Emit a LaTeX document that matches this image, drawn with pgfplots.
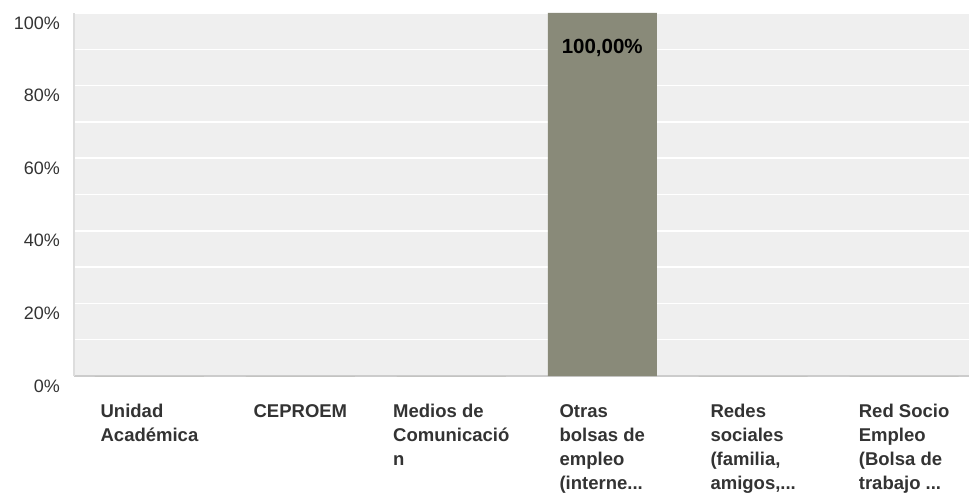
\documentclass[border=0pt]{standalone}
\usepackage{pgfplots}
\usepackage{pgfplotstable}
\pgfplotsset{compat=1.18}
\usepackage{fontspec}
\setmainfont{Liberation Sans}
\definecolor{bgc}{RGB}{239,239,239}
\definecolor{barc}{RGB}{137,138,121}
\definecolor{txt}{RGB}{51,51,51}
\definecolor{yax}{RGB}{221,221,221}
\definecolor{xax}{RGB}{204,204,204}
\newcommand\ddd{.\kern0pt.\kern0pt.}
\pgfplotstableread{
x y lbl
0 0 {}
1 0 {}
2 0 {}
3 100 100,00\%
4 0 {}
5 0 {}
}\datatab
\begin{document}
\begin{tikzpicture}
\useasboundingbox (-74bp,-119bp) rectangle (895bp,376bp);
\begin{axis}[
  at={(0,0)}, anchor=south west,
  scale only axis, width=895bp, height=363bp,
  xmin=-0.5, xmax=5.43, ymin=0, ymax=100,
  axis background/.style={fill=bgc},
  axis x line*=bottom, axis y line*=left,
  x axis line style={draw=xax, line width=1.2bp},
  y axis line style={draw=yax, line width=2bp},
  major tick length=0, minor tick length=0,
  ytick={0,20,40,60,80,100},
  yticklabels={0\%,20\%,40\%,60\%,80\%,100\%},
  minor ytick={10,30,50,70,90},
  ymajorgrids, yminorgrids,
  major grid style={draw=white, line width=1.5bp},
  minor grid style={draw=white, line width=1.5bp},
  yticklabel style={anchor=east, inner sep=0pt, xshift=-14bp, yshift=-10bp, text=txt, font=\fontsize{18bp}{22bp}\selectfont},
  xtick={0,1,2,3,4,5},
  xticklabels={{Unidad\\Académica},{CEPROEM},{Medios de\\Comunicació\\n},{Otras\\bolsas de\\empleo\\(interne\ddd},{Redes\\sociales\\(familia,\\amigos,\ddd},{Red Socio\\Empleo\\(Bolsa de\\trabajo \ddd}},
  xticklabel style={anchor=north, inner sep=0pt, yshift=-28bp, align=left, text=txt, font=\fontsize{18.5bp}{24bp}\selectfont\bfseries},
  ybar, bar width=109bp,
]
\addplot[fill=barc, draw=none, nodes near coords, point meta=explicit symbolic,
  every node near coord/.append style={anchor=center, yshift=-34.5bp, text=black, font=\fontsize{20.5bp}{24bp}\selectfont\bfseries}]
  table[x=x, y=y, meta=lbl] {\datatab};
\end{axis}
\end{tikzpicture}
\end{document}
